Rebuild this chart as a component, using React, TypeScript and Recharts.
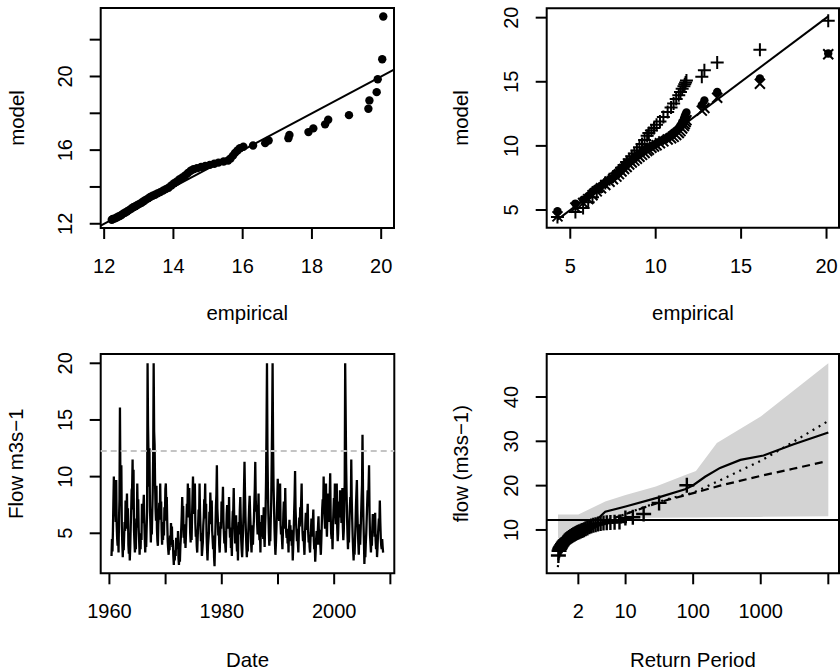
import React from "react";
import {
  ComposedChart,
  XAxis,
  YAxis,
  Scatter,
  Line,
  Area,
  ReferenceArea,
  ReferenceLine,
} from "recharts";

const FONT = '"Liberation Sans", Arial, Helvetica, sans-serif';
const FS = 20;
const FS_TITLE = 20.4;
const INK = "#000";

// ---------- Panel 1 (top-left): QQ plot ----------
const qqEmpirical = [12.22, 12.25, 12.3, 12.35, 12.4, 12.45, 12.5, 12.55, 12.6, 12.66, 12.72, 12.78, 12.84, 12.9, 12.96, 13.02, 13.08, 13.14, 13.2, 13.27, 13.33, 13.4, 13.47, 13.54, 13.62, 13.7, 13.78, 13.86, 13.94, 14.02, 14.1, 14.18, 14.26, 14.34, 14.42, 14.5, 14.58, 14.68, 14.8, 14.92, 15.05, 15.18, 15.3, 15.45, 15.58, 15.65, 15.72, 15.78, 15.85, 15.92, 16.02, 16.3, 16.65, 16.75, 17.32, 17.35, 17.9, 18.04, 18.38, 18.47, 19.07, 19.63, 19.66, 19.87, 19.9, 20.03, 20.06];
const qqModel = [12.22, 12.26, 12.28, 12.33, 12.38, 12.42, 12.48, 12.55, 12.6, 12.67, 12.74, 12.82, 12.9, 12.95, 13.02, 13.08, 13.14, 13.22, 13.3, 13.38, 13.45, 13.52, 13.58, 13.65, 13.72, 13.8, 13.88, 13.96, 14.08, 14.2, 14.3, 14.42, 14.52, 14.62, 14.76, 14.88, 14.96, 15.02, 15.08, 15.14, 15.2, 15.26, 15.32, 15.38, 15.44, 15.55, 15.7, 15.85, 15.98, 16.1, 16.18, 16.25, 16.38, 16.52, 16.65, 16.82, 16.98, 17.18, 17.4, 17.65, 17.9, 18.25, 18.7, 19.15, 19.85, 20.94, 23.26];
const qq1XDomain = [11.9, 20.37];
const qq1YDomain = [11.77, 23.72];
const qq1XTicks = [12, 14, 16, 18, 20];
const qq1XLabels = [12, 14, 16, 18, 20];
const qq1YTicks = [12, 14, 16, 18, 20, 22];
const qq1YLabels = [12, 16, 20];

// ---------- Panel 2 (top-right): QQ plot, three models ----------
const annualMaxima = [4.25, 5.3, 5.75, 6.05, 6.3, 6.55, 6.8, 7.05, 7.3, 7.5, 7.7, 7.85, 8.0, 8.15, 8.3, 8.45, 8.6, 8.75, 8.9, 9.05, 9.2, 9.35, 9.5, 9.6, 9.75, 9.9, 10.05, 10.25, 10.45, 10.7, 10.9, 11.05, 11.2, 11.35, 11.45, 11.55, 11.65, 11.7, 11.75, 11.8, 12.7, 12.85, 13.6, 16.1, 20.1];
const modelPlus = [4.45, 4.85, 5.15, 5.6, 6.0, 6.4, 6.8, 7.1, 7.4, 7.6, 7.85, 8.05, 8.3, 8.5, 8.75, 8.95, 9.2, 9.4, 9.65, 9.9, 10.15, 10.45, 10.8, 11.0, 11.2, 11.4, 11.65, 11.9, 12.25, 12.65, 13.0, 13.3, 13.65, 13.95, 14.2, 14.45, 14.65, 14.8, 14.95, 15.1, 15.4, 15.9, 16.5, 17.5, 19.75];
const modelCircle = [4.9, 5.5, 5.8, 6.1, 6.45, 6.7, 6.9, 7.15, 7.35, 7.5, 7.7, 7.9, 8.1, 8.3, 8.5, 8.7, 8.85, 9.0, 9.2, 9.35, 9.5, 9.65, 9.75, 9.85, 9.95, 10.05, 10.2, 10.35, 10.5, 10.7, 10.9, 11.05, 11.2, 11.4, 11.6, 11.85, 12.1, 12.3, 12.45, 12.6, 13.2, 13.55, 14.2, 15.25, 17.2];
const modelCross = [4.5, 5.2, 5.55, 5.85, 6.15, 6.45, 6.7, 6.95, 7.2, 7.4, 7.6, 7.8, 8.0, 8.2, 8.35, 8.55, 8.7, 8.85, 9.0, 9.15, 9.3, 9.45, 9.6, 9.7, 9.85, 9.95, 10.05, 10.2, 10.35, 10.5, 10.6, 10.7, 10.85, 11.0, 11.15, 11.35, 11.55, 11.7, 11.85, 12.0, 12.75, 12.95, 13.75, 14.85, 17.15];
const qq2Domain = [3.62, 20.73];
const qq2Ticks = [5, 10, 15, 20];

// ---------- Panel 3 (bottom-left): flow time series ----------
const flowStartYear = 1960;
const monthlyFlow: (number | null)[][] = [
  [null, null, null, null, 3.0, 4.5, 3.4, 5.2, 7.8, 10.0, 6.5, 8.1],
  [7.2, 6.0, 9.7, 5.8, 4.6, 3.9, 5.1, 3.3, 6.2, 8.0, 16.1, 9.3],
  [7.5, 11.0, 5.6, 4.1, 2.9, 4.3, 3.5, 4.8, 6.0, 5.2, 7.9, 6.4],
  [6.9, 8.5, 5.4, 7.2, 4.0, 3.2, 4.5, 2.6, 3.8, 5.6, 7.0, 8.8],
  [9.0, 11.5, 7.1, 10.6, 5.3, 4.2, 3.3, 4.7, 3.6, 6.3, 5.5, 9.4],
  [6.8, 8.0, 5.4, 4.3, 3.1, 4.6, 3.6, 5.0, 4.4, 7.6, 5.9, 6.7],
  [7.4, 8.4, 6.1, 4.5, 3.3, 4.9, 3.8, 5.5, 6.9, 20.0, 14.5, 12.0],
  [9.1, 12.5, 7.4, 5.9, 4.2, 6.3, 4.9, 6.8, 8.7, 11.8, 20.0, 14.0],
  [12.8, 9.5, 7.2, 6.1, 9.2, 5.4, 4.3, 3.9, 5.8, 6.5, 7.7, 6.2],
  [9.4, 6.6, 7.8, 5.3, 4.0, 5.1, 4.4, 6.0, 4.8, 7.3, 6.1, 8.9],
  [9.4, 7.5, 8.2, 6.0, 4.3, 3.6, 3.1, 4.4, 3.5, 4.8, 4.0, 5.9],
  [4.9, 5.6, 3.8, 4.4, 3.0, 2.2, 3.3, 2.6, 3.5, 3.0, 4.6, 3.9],
  [4.5, 3.6, 5.2, 2.8, 2.2, 3.4, 2.5, 3.8, 4.6, 5.5, 6.6, 8.2],
  [6.3, 7.4, 4.6, 5.8, 4.1, 5.3, 3.7, 4.9, 6.2, 7.6, 6.8, 9.4],
  [7.7, 6.4, 9.0, 6.9, 5.0, 4.2, 5.6, 4.4, 6.5, 8.3, 10.0, 7.8],
  [8.6, 6.7, 9.4, 5.9, 4.7, 5.3, 3.9, 3.3, 4.6, 5.8, 7.1, 6.2],
  [9.4, 7.0, 5.5, 4.3, 5.0, 3.0, 3.6, 4.2, 5.7, 6.4, 8.0, 7.3],
  [9.4, 6.3, 7.6, 4.8, 3.6, 2.6, 3.9, 4.5, 5.1, 6.9, 5.8, 8.6],
  [7.1, 6.0, 7.9, 5.2, 4.4, 3.6, 4.8, 2.9, 2.1, 4.0, 5.5, 7.4],
  [8.4, 11.0, 7.2, 6.3, 4.8, 5.6, 4.0, 3.3, 4.7, 6.0, 5.4, 7.8],
  [6.9, 7.6, 9.1, 6.2, 5.0, 4.1, 5.2, 3.9, 3.3, 5.1, 6.7, 7.5],
  [6.1, 7.3, 5.4, 8.2, 5.7, 4.6, 5.5, 3.7, 4.4, 3.0, 5.8, 6.9],
  [7.0, 9.0, 6.4, 5.2, 4.1, 4.8, 6.6, 4.3, 3.4, 4.6, 2.6, 5.4],
  [6.0, 4.9, 7.1, 8.2, 6.3, 4.4, 3.5, 2.9, 4.2, 5.3, 6.8, 9.1],
  [11.3, 8.7, 6.5, 5.1, 3.9, 2.9, 4.1, 3.4, 5.0, 6.2, 7.4, 8.3],
  [6.8, 5.6, 4.2, 3.3, 4.6, 5.7, 4.0, 5.3, 6.1, 7.6, 9.0, 11.3],
  [8.0, 6.9, 7.5, 5.8, 4.9, 6.3, 8.5, 5.2, 4.4, 5.0, 3.3, 6.0],
  [5.4, 6.6, 4.7, 5.9, 4.5, 7.3, 4.8, 3.8, 5.6, 6.8, 9.6, 14.2],
  [20.0, 12.4, 8.9, 6.7, 5.0, 3.9, 5.1, 4.3, 6.1, 7.7, 11.0, 14.8],
  [20.0, 13.0, 9.2, 7.4, 5.5, 4.2, 3.1, 4.0, 5.2, 6.6, 8.1, 9.8],
  [8.2, 7.0, 6.1, 7.6, 9.4, 5.8, 4.9, 5.6, 4.5, 3.6, 5.0, 6.7],
  [7.8, 6.3, 5.4, 9.0, 6.5, 5.1, 4.6, 5.4, 4.1, 4.8, 3.3, 5.2],
  [6.2, 4.9, 5.7, 4.3, 5.3, 3.9, 4.6, 2.6, 3.8, 5.1, 6.8, 8.3],
  [10.5, 7.2, 6.0, 5.2, 4.3, 5.4, 4.1, 3.3, 4.9, 6.4, 5.6, 7.3],
  [6.5, 7.8, 9.4, 6.2, 5.0, 4.3, 5.2, 4.0, 3.1, 4.7, 5.9, 6.8],
  [6.0, 5.3, 6.6, 7.6, 5.1, 4.2, 4.8, 3.8, 3.3, 4.6, 5.4, 6.3],
  [5.5, 4.7, 6.1, 7.1, 4.4, 3.6, 4.1, 2.5, 3.4, 4.5, 5.2, 4.0],
  [4.8, 5.6, 6.5, 4.9, 4.0, 5.3, 3.9, 3.1, 4.3, 5.8, 7.2, 8.0],
  [7.1, 10.0, 7.5, 6.3, 5.4, 6.9, 9.4, 6.0, 4.7, 6.4, 7.3, 8.5],
  [7.2, 6.0, 8.4, 10.3, 6.6, 5.0, 4.5, 5.3, 3.6, 5.7, 7.0, 8.1],
  [6.8, 9.4, 7.0, 5.8, 6.6, 9.4, 5.5, 4.3, 5.0, 6.5, 7.8, 6.4],
  [8.8, 6.9, 7.6, 5.9, 6.3, 9.0, 5.6, 4.4, 5.2, 7.0, 9.5, 20.0],
  [15.8, 11.2, 8.6, 6.4, 4.8, 3.6, 5.0, 4.2, 5.9, 7.3, 8.2, 6.9],
  [11.5, 8.0, 6.2, 4.7, 3.5, 2.6, 3.8, 3.1, 4.4, 5.7, 7.4, 8.6],
  [9.7, 7.0, 5.4, 4.2, 3.1, 4.5, 5.8, 4.0, 5.3, 6.6, 8.1, 9.3],
  [13.7, 8.9, 6.1, 4.4, 2.3, 3.6, 2.9, 4.1, 5.0, 6.3, 7.6, 8.8],
  [7.4, 9.2, 11.0, 6.8, 4.9, 4.1, 3.3, 4.6, 3.9, 5.5, 6.7, 5.8],
  [5.2, 6.0, 4.7, 6.8, 4.4, 3.6, 4.9, 2.9, 3.7, 4.8, 5.6, 6.3],
  [5.7, 7.9, 6.0, 4.6, 3.9, 3.6, 4.5, 3.8, 3.3, null, null, null],
];
const flowThreshold = 12.26;
const flowXDomain = [1958.45, 2010.7];
const flowYDomain = [1.47, 20.82];
const flowXTicks = [1960, 1970, 1980, 1990, 2000, 2010];
const flowXLabels = [1960, 1980, 2000];
const flowYTicks = [5, 10, 15, 20];

// ---------- Panel 4 (bottom-right): return period plot ----------
const returnPeriod = [1.013, 1.036, 1.06, 1.085, 1.111, 1.138, 1.166, 1.196, 1.228, 1.261, 1.297, 1.334, 1.375, 1.418, 1.464, 1.513, 1.566, 1.623, 1.684, 1.75, 1.82, 1.9, 1.98, 2.07, 2.18, 2.29, 2.42, 2.56, 2.72, 2.9, 3.1, 3.33, 3.6, 3.91, 4.27, 4.71, 5.26, 5.96, 6.87, 8.12, 9.93, 12.8, 18.5, 31.3, 80.6];
const solidRP = [3.5, 5.0, 10, 30, 76, 100, 150, 250, 500, 1100, 3000, 10000];
const solidFlow = [11.9, 14.1, 15.3, 17.3, 19.2, 20.1, 22.0, 24.0, 25.8, 26.8, 29.3, 32.0];
const dottedRP = [0.995, 1.02, 1.05, 1.1, 1.2, 1.4, 1.7, 2, 3, 5, 10, 20, 40, 100, 250, 1000, 2300, 10000];
const dottedFlow = [1.6, 3.5, 5.0, 6.2, 7.3, 8.4, 9.2, 9.8, 10.9, 12.0, 13.6, 15.3, 16.9, 18.4, 21.2, 25.6, 28.8, 34.6];
const dashedRP = [1.05, 1.2, 1.5, 2, 3, 5, 10, 20, 40, 100, 250, 1000, 3000, 8300];
const dashedFlow = [5.5, 7.0, 8.3, 9.5, 10.8, 12.0, 13.6, 15.2, 16.7, 18.3, 20.0, 22.2, 23.8, 25.3];
const bandRP = [1.0, 1.3, 2.0, 3.0, 5.0, 10, 28, 80, 110, 224, 1000, 10000];
const bandLow = [8.0, 9.0, 10.3, 11.3, 12.6, 12.7, 12.75, 12.8, 12.8, 12.85, 12.95, 13.1];
const bandHigh = [13.5, 13.5, 13.5, 14.8, 16.4, 17.9, 19.8, 22.5, 23.3, 29.6, 35.6, 47.6];
const rpXDomain = [0.68, 14390];
const rpYDomain = [0.22, 49.7];
const rpXTicks = [2, 10, 100, 1000, 10000];
const rpXLabels = [2, 10, 100, 1000];
const rpYTicks = [10, 20, 30, 40];

// ---------- helpers ----------
type Pt = { x: number; y: number };
const pairs = (xs: number[], ys: number[]): Pt[] => xs.map((x, i) => ({ x, y: ys[i] }));

const qq1Points = pairs(qqEmpirical, qqModel);
const qq1Line = pairs(qq1XDomain, qq1XDomain);
const qq2Plus = pairs(annualMaxima, modelPlus);
const qq2Circle = pairs(annualMaxima, modelCircle);
const qq2Cross = pairs(annualMaxima, modelCross);
const qq2Range = [annualMaxima[0], annualMaxima[annualMaxima.length - 1]];
const qq2Line = pairs(qq2Range, qq2Range);

const flowPoints: Pt[] = [];
monthlyFlow.forEach((row, i) => {
  row.forEach((v, m) => {
    if (v !== null) flowPoints.push({ x: flowStartYear + i + (m + 0.5) / 12, y: v });
  });
});

const rpPoints = pairs(returnPeriod, annualMaxima);
const solidPts = pairs(solidRP, solidFlow);
const dottedPts = pairs(dottedRP, dottedFlow);
const dashedPts = pairs(dashedRP, dashedFlow);
const bandPts = bandRP.map((x, i) => ({ x, y: [bandLow[i], bandHigh[i]] }));

const xTick = (labels: number[]) => (props: any) => {
  const { x, y, payload } = props;
  if (!labels.includes(payload.value)) return <g />;
  return (
    <text x={x} y={y + 34} textAnchor="middle" fontFamily={FONT} fontSize={FS} fill={INK}>
      {String(payload.value)}
    </text>
  );
};

const yTick = (labels: number[]) => (props: any) => {
  const { x, y, payload } = props;
  if (!labels.includes(payload.value)) return <g />;
  const cx = x - 25;
  return (
    <text
      x={cx}
      y={y}
      dy="0.35em"
      transform={`rotate(-90 ${cx} ${y})`}
      textAnchor="middle"
      fontFamily={FONT}
      fontSize={FS}
      fill={INK}
    >
      {String(payload.value)}
    </text>
  );
};

const axisCommon = {
  type: "number" as const,
  axisLine: false,
  tickLine: { stroke: INK, strokeWidth: 2 },
  stroke: INK,
  tickSize: 11,
  tickMargin: 0,
  interval: 0 as const,
  allowDataOverflow: true,
};

const DotShape = (p: any) => <circle cx={p.cx} cy={p.cy} r={4.2} fill={INK} />;
const PlusShape = (s: number, w: number) => (p: any) => (
  <path
    d={`M${p.cx - s},${p.cy}H${p.cx + s}M${p.cx},${p.cy - s}V${p.cy + s}`}
    stroke={INK}
    strokeWidth={w}
    fill="none"
  />
);
const CrossShape = (p: any) => (
  <path
    d={`M${p.cx - 5},${p.cy - 5}L${p.cx + 5},${p.cy + 5}M${p.cx - 5},${p.cy + 5}L${p.cx + 5},${p.cy - 5}`}
    stroke={INK}
    strokeWidth={2}
    fill="none"
  />
);

function Panel1() {
  return (
    <ComposedChart width={420} height={335} margin={{ top: 8, right: 26, bottom: 47, left: 0 }}>
      <XAxis dataKey="x" domain={qq1XDomain} ticks={qq1XTicks} tick={xTick(qq1XLabels)} height={60} {...axisCommon} />
      <YAxis dataKey="y" domain={qq1YDomain} ticks={qq1YTicks} tick={yTick(qq1YLabels)} width={100.7} {...axisCommon} />
      <Line data={qq1Line} dataKey="y" stroke={INK} strokeWidth={2} dot={false} isAnimationActive={false} type="linear" />
      <Scatter data={qq1Points} shape={DotShape} isAnimationActive={false} />
      <ReferenceArea x1={qq1XDomain[0]} x2={qq1XDomain[1]} y1={qq1YDomain[0]} y2={qq1YDomain[1]} fill="none" fillOpacity={0} stroke={INK} strokeWidth={2} ifOverflow="visible" />
    </ComposedChart>
  );
}

function Panel2() {
  return (
    <ComposedChart width={420} height={335} margin={{ top: 8.3, right: 1, bottom: 47.3, left: 0 }}>
      <XAxis dataKey="x" domain={qq2Domain} ticks={qq2Ticks} tick={xTick(qq2Ticks)} height={60} {...axisCommon} />
      <YAxis dataKey="y" domain={qq2Domain} ticks={qq2Ticks} tick={yTick(qq2Ticks)} width={126.7} {...axisCommon} />
      <Line data={qq2Line} dataKey="y" stroke={INK} strokeWidth={2} dot={false} isAnimationActive={false} type="linear" />
      <Scatter data={qq2Circle} shape={DotShape} isAnimationActive={false} />
      <Scatter data={qq2Cross} shape={CrossShape} isAnimationActive={false} />
      <Scatter data={qq2Plus} shape={PlusShape(6.5, 2)} isAnimationActive={false} />
      <ReferenceArea x1={qq2Domain[0]} x2={qq2Domain[1]} y1={qq2Domain[0]} y2={qq2Domain[1]} fill="none" fillOpacity={0} stroke={INK} strokeWidth={2} ifOverflow="visible" />
    </ComposedChart>
  );
}

function Panel3() {
  return (
    <ComposedChart width={420} height={335} margin={{ top: 19, right: 25.7, bottom: 36.7, left: 0 }}>
      <XAxis dataKey="x" domain={flowXDomain} ticks={flowXTicks} tick={xTick(flowXLabels)} height={60} {...axisCommon} />
      <YAxis dataKey="y" domain={flowYDomain} ticks={flowYTicks} tick={yTick(flowYTicks)} width={100.7} {...axisCommon} />
      <Line data={flowPoints} dataKey="y" stroke={INK} strokeWidth={2.3} dot={false} isAnimationActive={false} type="linear" />
      <ReferenceLine y={flowThreshold} stroke="#c4c4c4" strokeWidth={2} strokeDasharray="6 4" ifOverflow="visible" />
      <ReferenceArea x1={flowXDomain[0]} x2={flowXDomain[1]} y1={flowYDomain[0]} y2={flowYDomain[1]} fill="none" fillOpacity={0} stroke={INK} strokeWidth={2} ifOverflow="visible" />
    </ComposedChart>
  );
}

function Panel4() {
  return (
    <ComposedChart width={420} height={335} data={bandPts} margin={{ top: 19, right: 1, bottom: 36.7, left: 0 }}>
      <XAxis dataKey="x" scale="log" domain={rpXDomain} ticks={rpXTicks} tick={xTick(rpXLabels)} height={60} {...axisCommon} />
      <YAxis dataKey="y" domain={rpYDomain} ticks={rpYTicks} tick={yTick(rpYTicks)} width={126.7} {...axisCommon} />
      <Area dataKey="y" stroke="none" fill="#d3d3d3" fillOpacity={1} isAnimationActive={false} type="linear" />
      <Line data={solidPts} dataKey="y" stroke={INK} strokeWidth={2.2} dot={false} isAnimationActive={false} type="linear" />
      <Line data={dottedPts} dataKey="y" stroke={INK} strokeWidth={2.2} strokeDasharray="2 5" dot={false} isAnimationActive={false} type="linear" />
      <Line data={dashedPts} dataKey="y" stroke={INK} strokeWidth={2.2} strokeDasharray="8 5" dot={false} isAnimationActive={false} type="linear" />
      <ReferenceLine y={flowThreshold} stroke={INK} strokeWidth={2} ifOverflow="visible" />
      <Scatter data={rpPoints} shape={PlusShape(7.5, 2.4)} isAnimationActive={false} />
      <ReferenceArea x1={rpXDomain[0]} x2={rpXDomain[1]} y1={rpYDomain[0]} y2={rpYDomain[1]} fill="none" fillOpacity={0} stroke={INK} strokeWidth={2} ifOverflow="visible" />
    </ComposedChart>
  );
}

const titleStyle = { fontFamily: FONT, fontSize: FS_TITLE, fill: INK } as const;

export default function App() {
  const pos = (left: number, top: number): React.CSSProperties => ({ position: "absolute", left, top, width: 420, height: 335 });
  return (
    <div style={{ position: "absolute", left: 0, top: 0, width: 840, height: 670, background: "#fff", overflow: "hidden" }}>
      <div style={pos(0, 0)}><Panel1 /></div>
      <div style={pos(420, 0)}><Panel2 /></div>
      <div style={pos(0, 335)}><Panel3 /></div>
      <div style={pos(420, 335)}><Panel4 /></div>
      <svg width={840} height={670} style={{ position: "absolute", left: 0, top: 0, pointerEvents: "none" }}>
        <text x={247.3} y={320} textAnchor="middle" style={titleStyle}>empirical</text>
        <text x={692.9} y={320} textAnchor="middle" style={titleStyle}>empirical</text>
        <text x={247.5} y={666.5} textAnchor="middle" style={titleStyle}>Date</text>
        <text x={692.9} y={666.5} textAnchor="middle" style={titleStyle}>Return Period</text>
        <text x={23.5} y={118} textAnchor="middle" transform="rotate(-90 23.5 118)" style={titleStyle}>model</text>
        <text x={468} y={118} textAnchor="middle" transform="rotate(-90 468 118)" style={titleStyle}>model</text>
        <text x={23.5} y={463.7} textAnchor="middle" transform="rotate(-90 23.5 463.7)" style={titleStyle}>Flow m3s−1</text>
        <text x={468} y={463.7} textAnchor="middle" transform="rotate(-90 468 463.7)" style={titleStyle}>flow (m3s−1)</text>
      </svg>
    </div>
  );
}
